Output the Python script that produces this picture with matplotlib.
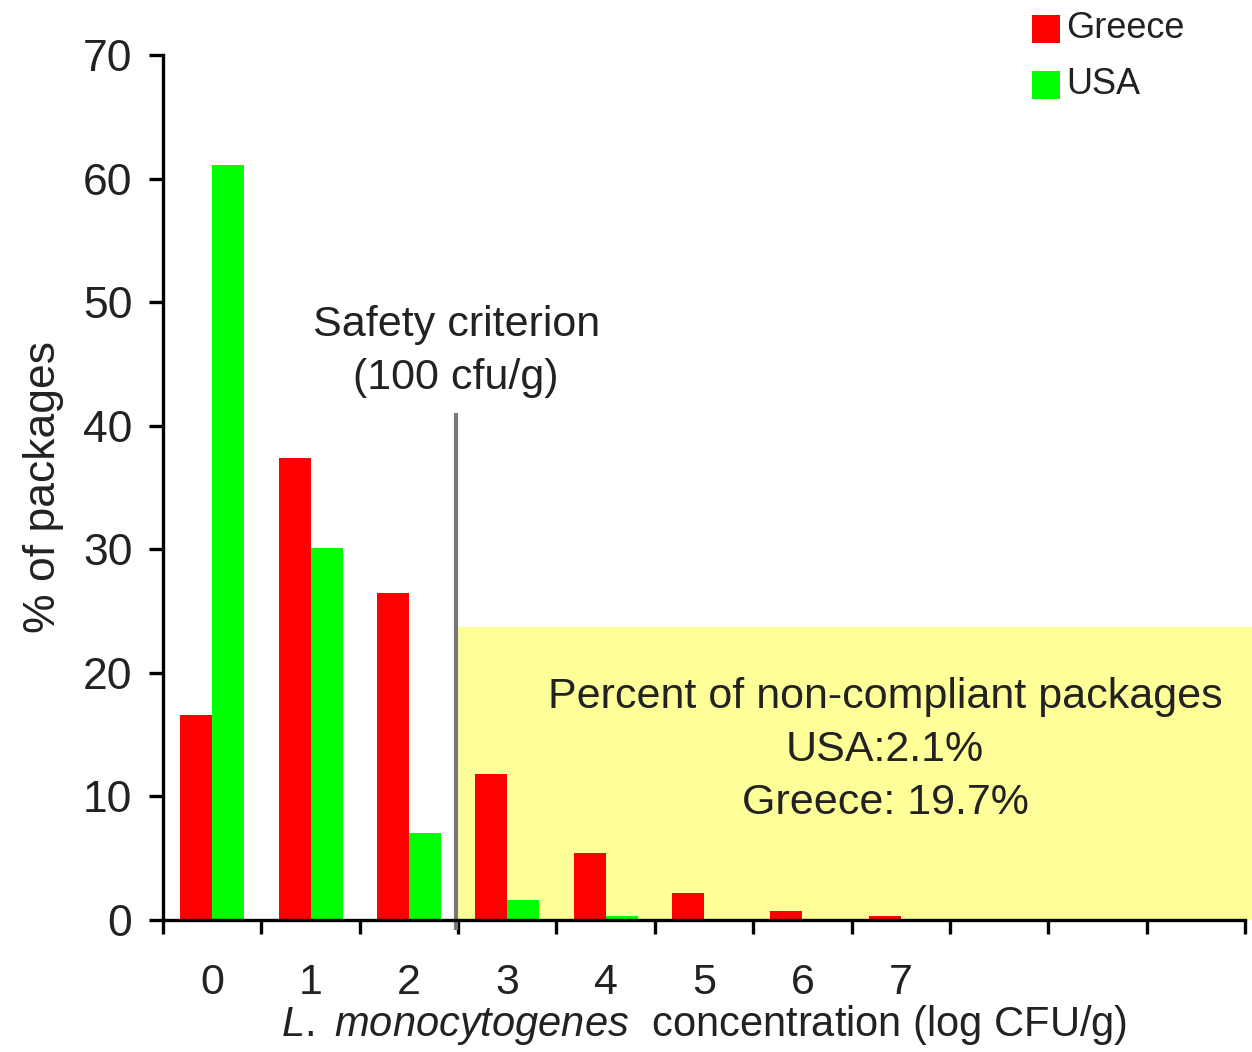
import numpy as np
import matplotlib.pyplot as plt
from matplotlib.patches import Rectangle

plt.rcParams['font.family'] = ['Liberation Sans', 'DejaVu Sans']
plt.rcParams['mathtext.fontset'] = 'custom'
plt.rcParams['mathtext.rm'] = 'Liberation Sans'
plt.rcParams['mathtext.it'] = 'Liberation Sans:italic'

# log CFU/g classes and % of packages per class
classes = ['0', '1', '2', '3', '4', '5', '6', '7']
greece = [16.6, 37.4, 26.5, 11.8, 5.4, 2.2, 0.7, 0.35]
usa = [61.1, 30.1, 7.0, 1.6, 0.3, 0.0, 0.0, 0.0]
n_slots = 11
criterion = 2.48          # 100 cfu/g boundary
zone_top = 23.7
summary = ["Percent of non-compliant packages", "USA:2.1%", "Greece: 19.7%"]

fig = plt.figure(figsize=(12.52, 10.52), dpi=100)
ax = fig.add_axes([0.1302, 0.1255, 0.8642, 0.8222])

x = np.arange(len(classes))
w = 0.325
ax.bar(x - w / 2, greece, w, color='#ff0000', zorder=3)
ax.bar(x + w / 2, usa, w, color='#00ff00', zorder=3)

# non-compliant zone
ax.add_patch(Rectangle((criterion, 0), n_slots - 0.5 - criterion + 0.08, zone_top,
                       facecolor='#ffff99', edgecolor='none', zorder=1, clip_on=False))
ax.plot([criterion, criterion], [-0.8, 41.0], color='#777777', lw=3,
        zorder=2, clip_on=False, solid_capstyle='butt')

ax.text(criterion, 46.0, "Safety criterion\n(100 cfu/g)", ha='center', va='center',
        fontsize=31, linespacing=1.42, color='#222222')
ax.text(6.84, 13.75, "\n".join(summary), ha='center', va='center',
        fontsize=31, linespacing=1.42, color='#222222')

ax.set_xlim(-0.5, n_slots - 0.5)
ax.set_ylim(0, 70)
ax.set_yticks(np.arange(0, 71, 10))
ax.set_xticks(np.arange(-0.5, n_slots, 1.0))
ax.set_xticklabels([])
ax.set_xticks(x, minor=True)
ax.set_xticklabels(classes, minor=True)

for s in ['top', 'right']:
    ax.spines[s].set_visible(False)
for s in ['left', 'bottom']:
    ax.spines[s].set_linewidth(2.4)
    ax.spines[s].set_zorder(4)

ax.tick_params(axis='y', direction='out', length=10, width=2.4, pad=12,
               labelsize=32, labelcolor='#222222')
ax.tick_params(axis='x', which='major', direction='out', length=10, width=2.4)
ax.tick_params(axis='x', which='minor', length=0, pad=31, labelsize=31,
               labelcolor='#222222')

ax.set_ylabel("% of packages", fontsize=32, labelpad=14, color='#222222')
ax.set_xlabel(r"$\it{L.\ monocytogenes}$  concentration (log CFU/g)",
              fontsize=30, labelpad=0, color='#222222')

# legend
for i, (name, col) in enumerate([("Greece", '#ff0000'), ("USA", '#00ff00')]):
    yb = 1 - (43 + 56 * i) / 1052
    fig.patches.append(Rectangle((1032 / 1252, yb), 28 / 1252, 28 / 1052,
                                 transform=fig.transFigure, facecolor=col,
                                 edgecolor='none'))
    fig.text(1066 / 1252, yb + 14 / 1052, name, ha='left', va='center',
             fontsize=26, color='#222222')

fig.savefig('out.png', dpi=100)
